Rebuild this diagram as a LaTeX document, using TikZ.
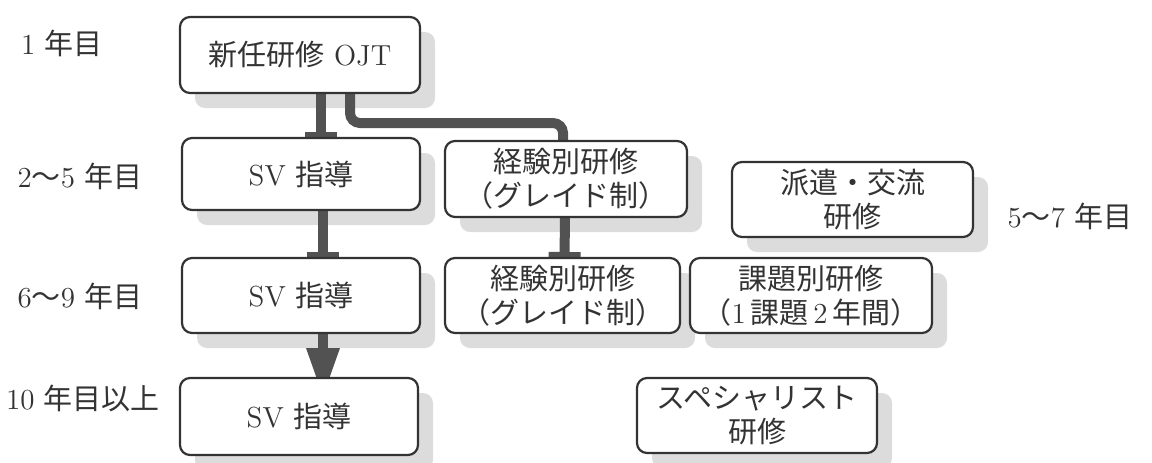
\documentclass[tikz,border=0pt]{standalone}
\usepackage{fontspec}
\newfontfamily\cjk{Noto Sans CJK JP}
\usetikzlibrary{arrows.meta}
\pgfdeclarelayer{shadowlayer}
\pgfdeclarelayer{connlayer}
\pgfsetlayers{shadowlayer,connlayer,main}
\definecolor{ink}{HTML}{333333}
\definecolor{conncol}{HTML}{525252}
\definecolor{shade}{HTML}{DCDCDC}
\begin{document}
\begin{tikzpicture}[x=0.5pt,y=-0.5pt,
  box/.style={draw=ink, line width=1.1pt, rounded corners=5pt, fill=white, align=center,
    text=ink, font=\fontsize{14.5}{17}\selectfont, inner sep=0pt, outer sep=0pt},
  lbl/.style={text=ink, font=\fontsize{14.5}{17}\selectfont, inner sep=0pt},
  connector/.style={draw=conncol, line width=5pt},
  flange/.style={-{Rectangle[length=3pt,width=16pt,line width=0pt]}},
  shadowbox/.style={fill=shade, rounded corners=5pt}]
\useasboundingbox (0,0) rectangle (1152,462);

% boxes
\node[box, minimum width=120pt, minimum height=38pt] (B1) at (300,55) {{\cjk 新任研修} OJT};
\node[box, minimum width=119pt, minimum height=36pt] (SV2) at (301,174) {SV {\cjk 指導}};
\node[box, minimum width=121pt, minimum height=38pt] (K2) at (566,179) {{\cjk 経験別研修}\\{\cjk （グレイド制）}};
\node[box, minimum width=120.5pt, minimum height=37.5pt] (HK) at (852.5,199.5) {{\cjk 派遣・交流}\\{\cjk 研修}};
\node[box, minimum width=119pt, minimum height=37.5pt] (SV3) at (301,295.5) {SV {\cjk 指導}};
\node[box, minimum width=117.5pt, minimum height=37.5pt] (K3) at (562.5,295.5) {{\cjk 経験別研修}\\{\cjk （グレイド制）}};
\node[box, minimum width=121pt, minimum height=37.5pt] (KD) at (811,295.5) {{\cjk 課題別研修}\\{\cjk （}1\,{\cjk 課題}\,2\,{\cjk 年間）}};
\node[box, minimum width=119pt, minimum height=38.5pt] (SV4) at (299,416.5) {SV {\cjk 指導}};
\node[box, minimum width=120pt, minimum height=37.5pt] (SP) at (757,415.5) {{\cjk スペシャリスト}\\{\cjk 研修}};

% year labels
\node[lbl] (Y1) at (62,43) {1 {\cjk 年目}};
\node[lbl] (Y2) at (80,176) {2{\cjk 〜}5 {\cjk 年目}};
\node[lbl] (Y3) at (80,296) {6{\cjk 〜}9 {\cjk 年目}};
\node[lbl] (Y4) at (83,398) {10 {\cjk 年目以上}};
\node[lbl] (Y5) at (1070,216) {5{\cjk 〜}7 {\cjk 年目}};

% shadows
\begin{pgfonlayer}{shadowlayer}
\foreach \n in {B1,SV2,K2,HK,SV3,K3,KD,SV4,SP}{
  \fill[shadowbox] ([shift={(7.5pt,-7.5pt)}]\n.south west) rectangle ([shift={(7.5pt,-7.5pt)}]\n.north east);
}
\end{pgfonlayer}

% connectors
\begin{pgfonlayer}{connlayer}
\draw[connector, flange] ([xshift=10.5pt]B1.south) -- ([xshift=10pt]SV2.north);
\draw[connector, rounded corners=5pt] ([xshift=25pt]B1.south) -- ([xshift=25pt,yshift=-15pt]B1.south) -| ([xshift=-1.5pt]K2.north);
\draw[connector, flange] ([xshift=-0.5pt]K2.south) -- ([xshift=1pt]K3.north);
\draw[connector, flange] ([xshift=11pt]SV2.south) -- ([xshift=11pt]SV3.north);
\draw[connector, -{Triangle[length=24pt,width=17pt,line width=0pt]}] ([xshift=11pt]SV3.south) -- ([xshift=12pt,yshift=-9pt]SV4.north);
\end{pgfonlayer}
\end{tikzpicture}
\end{document}
